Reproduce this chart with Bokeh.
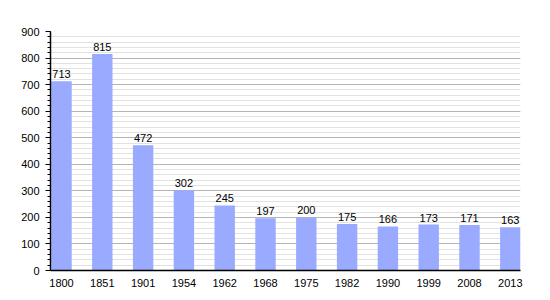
from bokeh.plotting import figure
from bokeh.models import ColumnDataSource, Range1d, FixedTicker, LabelSet
from bokeh.core.properties import value
from bokeh.embed import file_html
from bokeh.resources import INLINE

years = ["1800", "1851", "1901", "1954", "1962", "1968", "1975", "1982", "1990", "1999", "2008", "2013"]
population = [713, 815, 472, 302, 245, 197, 200, 175, 166, 173, 171, 163]

xs = list(range(len(years)))
src = ColumnDataSource(dict(x=xs, y=population, lab=[str(v) for v in population]))

p = figure(width=550, height=300, output_backend="svg", toolbar_location=None,
           x_range=Range1d(-0.27, len(years) - 0.75), y_range=Range1d(0, 900),
           min_border_left=50, min_border_right=30, min_border_top=31, min_border_bottom=30)
p.outline_line_color = None
p.background_fill_color = "white"

p.vbar(x="x", top="y", width=0.5, source=src, fill_color="#99aaff", line_color=None)

labels = LabelSet(x="x", y="y", text="lab", source=src, text_align="center",
                  text_baseline="bottom", y_offset=3, text_font_size=value("11px"),
                  text_font=value("Liberation Sans"), text_color="black")
p.add_layout(labels)

p.xaxis.ticker = FixedTicker(ticks=xs)
p.xaxis.major_label_overrides = {i: y for i, y in enumerate(years)}
p.xaxis.major_tick_line_color = None
p.xaxis.minor_tick_line_color = None
p.xaxis.axis_line_color = "black"
p.xaxis.axis_line_width = 1.5
p.xaxis.major_label_text_font = "Liberation Sans"
p.xaxis.major_label_text_font_size = "11px"
p.xaxis.major_label_text_color = "black"
p.xaxis.major_label_standoff = 2

p.yaxis.ticker = FixedTicker(ticks=list(range(0, 901, 100)), minor_ticks=list(range(0, 901, 20)))
p.yaxis.axis_line_color = "black"
p.yaxis.axis_line_width = 1.5
p.yaxis.major_tick_out = 5
p.yaxis.major_tick_in = 0
p.yaxis.minor_tick_out = 3
p.yaxis.minor_tick_in = 0
p.yaxis.major_label_text_font = "Liberation Sans"
p.yaxis.major_label_text_font_size = "11px"
p.yaxis.major_label_text_color = "black"
p.yaxis.major_label_standoff = 6

p.xgrid.grid_line_color = None
p.ygrid.grid_line_color = "#b4b4b4"
p.ygrid.minor_grid_line_color = "#e2e2e2"
p.ygrid.level = "underlay"

open("out.html", "w").write(file_html(p, INLINE))
